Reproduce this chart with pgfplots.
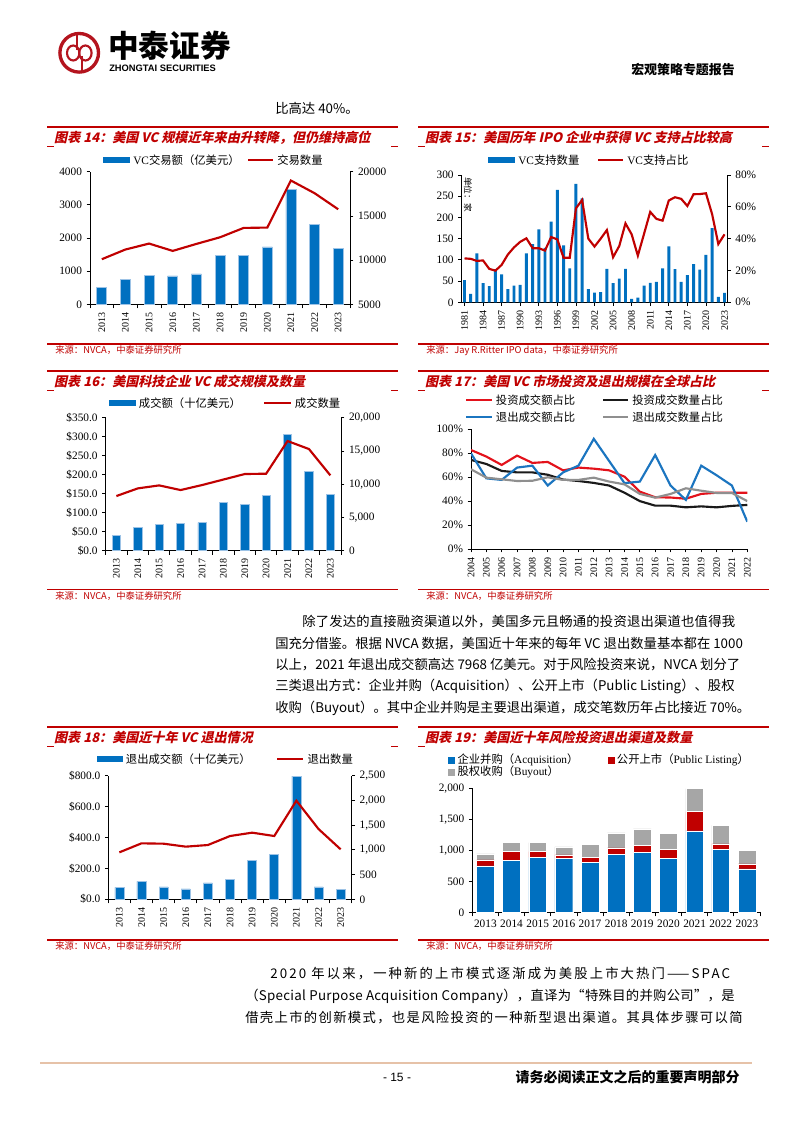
\documentclass[border=0pt]{standalone}
\usepackage{fontspec}
\setmainfont{Liberation Serif}
\setsansfont{Liberation Sans}
\newfontfamily\cjk{Noto Sans CJK SC}
\newfontfamily\cjkA[LetterSpace=1.5]{Noto Sans CJK SC}
\newfontfamily\cjkB[LetterSpace=10]{Noto Sans CJK SC}
\newfontfamily\cjkC[LetterSpace=2.2]{Noto Sans CJK SC}
\newfontfamily\cjkD[LetterSpace=16]{Noto Sans CJK SC}
\usepackage{pgfplots}
\pgfplotsset{compat=1.18}

\definecolor{zred}{HTML}{C00000}
\definecolor{zblue}{HTML}{0070C0}
\definecolor{zedge}{HTML}{9DC3E6}
\definecolor{zgray}{HTML}{A6A6A6}
\definecolor{logored}{HTML}{B4141E}
\definecolor{footline}{HTML}{E6C2A8}
\definecolor{rA}{HTML}{E3121B}
\definecolor{kA}{HTML}{1A1A1A}
\definecolor{bA}{HTML}{1B75C0}
\definecolor{gA}{HTML}{8F8F8F}

\newcommand\fs[1]{\fontsize{#1}{#1}\selectfont}

\pgfplotsset{
  zax/.style={scale only axis, anchor=south west,
    /pgf/number format/assume math mode=true,
    scaled y ticks=false, scaled x ticks=false,
    axis line style={black, line width=0.7pt},
    tick style={black, line width=0.6pt},
    major tick length=2.5pt, minor tick length=3pt,
    tick align=outside,
    yticklabel style={font=\fs{8.5}},
    xticklabel style={font=\fs{7.5}}},
  zleft/.style={zax, axis x line*=bottom, axis y line*=left},
  zright/.style={zax, axis y line*=right, axis x line=none},
  zcat/.style={xmin=-0.5, xmax=10.5, xtick={0,...,10},
    xticklabels={2013,2014,2015,2016,2017,2018,2019,2020,2021,2022,2023},
    major x tick style={draw=none},
    minor xtick={-0.5,0.5,...,10.5}},
  zrot/.style={xticklabel style={rotate=90, anchor=east}},
  zbar/.style={ybar, fill=zblue, draw=zedge, line width=0.5pt},
}

% panel frame: x1, x2, ytop, ybottom, title, source, right segment
\newcommand\panel[7]{%
  \draw[zred, line width=1.3pt] (#1,-#3) -- (#2,-#3);
  \node[anchor=west, inner sep=0, text=zred, xslant=0.22, transform shape] at ({#1+8},{-#3-10.5}) {\cjk\bfseries\fs{9.8}#5};
  \draw[zred, line width=0.8pt] (#1,{-#3-19.5}) -- ({#1+7},{-#3-19.5});
  \ifnum#7=1 \draw[zred, line width=0.8pt] ({#2-7},{-#3-19.5}) -- (#2,{-#3-19.5});\fi
  \draw[zred, line width=1pt] (#1,-#4) -- (#2,-#4);
  \node[anchor=west, inner sep=0, text=zred] at ({#1+8},{-#4-6.5}) {\cjk\fs{7}#6};
}
\newcommand\lbar[4]{%
  \fill[zblue] (#1,{-#3+3}) rectangle (#2,{-#3-3});
  \node[anchor=west, inner sep=0] at ({#2+3},-#3) {\fs{8.5}#4};}
\newcommand\lline[5]{%
  \draw[#1, line width=1.6pt] (#2,-#4) -- (#3,-#4);
  \node[anchor=west, inner sep=0] at ({#3+4},-#4) {\fs{8.5}#5};}
\newcommand\lsq[4]{%
  \fill[#1] (#2,{-#3+3.5}) rectangle ({#2+7},{-#3-3.5});
  \node[anchor=west, inner sep=0] at ({#2+9},-#3) {\fs{8.5}#4};}
\newcommand\bline[3]{%
  \node[anchor=west, inner sep=0] at (#1,-#2) {\fs{10}#3};}

\begin{document}
\begin{tikzpicture}[x=0.75pt,y=0.75pt]
\path[use as bounding box, fill=white] (0,0) rectangle (794,-1123);

% header
\draw[logored, line width=2.5pt] (79.2,-52.8) circle (19.3);
\draw[logored, line width=1.6pt] (73.2,-53) ellipse (6.2 and 7.5);
\draw[logored, line width=1.6pt] (85.4,-53) ellipse (6.2 and 7.5);
\draw[logored, line width=1.6pt] (76.6,-34) -- (76.6,-50);
\draw[logored, line width=1.6pt] (82,-56) -- (82,-72);
\node[anchor=west, inner sep=0] at (108,-46) {\cjk\bfseries\fs{23}中泰证券};
\node[anchor=west, inner sep=0] at (109,-68) {\sffamily\bfseries\fs{7}ZHONGTAI SECURITIES};
\node[anchor=east, inner sep=0] at (735,-70) {\cjk\bfseries\fs{9.7}宏观策略专题报告};
\node[anchor=west, inner sep=0] at (275,-108) {\cjk\fs{10}比高达 40\%。};

% frames
\panel{47}{398}{127}{344}{图表 14：美国 VC 规模近年来由升转降，但仍维持高位}{来源：NVCA，中泰证券研究所}{1}
\panel{418}{769}{127}{344}{图表 15：美国历年 IPO 企业中获得 VC 支持占比较高}{来源：Jay R.Ritter IPO data，中泰证券研究所}{1}
\panel{47}{398}{370.7}{589.3}{图表 16：美国科技企业 VC 成交规模及数量}{来源：NVCA，中泰证券研究所}{1}
\panel{418}{769}{370.7}{589.3}{图表 17：美国 VC 市场投资及退出规模在全球占比}{来源：NVCA，中泰证券研究所}{1}
\panel{47}{398}{727.3}{940}{图表 18：美国近十年 VC 退出情况}{来源：NVCA，中泰证券研究所}{1}
\panel{418}{769}{727.3}{940}{图表 19：美国近十年风险投资退出渠道及数量}{来源：NVCA，中泰证券研究所}{0}

% legends
\lbar{103}{130}{160}{VC{\cjk 交易额（亿美元）}}
\lline{zred}{248}{273}{160}{\cjk 交易数量}
\lbar{488}{515}{160}{VC{\cjk 支持数量}}
\lline{zred}{598}{623}{160}{VC{\cjk 支持占比}}
\lbar{109}{135.7}{402.7}{\cjk 成交额（十亿美元）}
\lline{zred}{264}{290.7}{402.7}{\cjk 成交数量}
\lline{rA}{466}{491.7}{400}{\cjk 投资成交额占比}
\lline{kA}{603.3}{628}{400}{\cjk 投资成交数量占比}
\lline{bA}{466}{491.7}{416.7}{\cjk 退出成交额占比}
\lline{gA}{603.3}{628}{416.7}{\cjk 退出成交数量占比}
\lbar{97.3}{122.7}{759}{\cjk 退出成交额（十亿美元）}
\lline{zred}{277.3}{303.3}{759}{\cjk 退出数量}
\lsq{zblue}{448.3}{760}{{\cjk 企业并购（}Acquisition{\cjk ）}}
\lsq{zred}{607.7}{760}{{\cjk 公开上市（}Public Listing{\cjk ）}}
\lsq{zgray}{448.3}{772.3}{{\cjk 股权收购（}Buyout{\cjk ）}}
\node[anchor=west, inner sep=0, rotate=-90] at (468,-177) {\cjk\fs{6.5}单位：家};

\coordinate (c14) at (90,-304.3);
\coordinate (c15) at (461.7,-302.3);
\coordinate (c16) at (105.7,-550.7);
\coordinate (c17) at (471,-549);
\coordinate (c18) at (108.3,-899.3);
\coordinate (c19) at (472.3,-912.3);

% chart 14
\begin{axis}[zleft, zcat, zrot, at={(c14)}, width=195pt, height=99.45pt,
  ymin=0, ymax=4000, ytick={0,1000,...,4000}, /pgf/number format/1000 sep={}]
\addplot[zbar, bar width=7.5pt] coordinates {
  (0,513) (1,754) (2,874) (3,854) (4,915) (5,1477) (6,1487) (7,1729) (8,3467) (9,2412) (10,1698)};
\end{axis}
\begin{axis}[zright, zcat, at={(c14)}, width=195pt, height=99.45pt,
  ymin=5000, ymax=20000, ytick={5000,10000,15000,20000}, /pgf/number format/1000 sep={}]
\addplot[zred, line width=1.6pt, mark=none] coordinates {
  (0,10100) (1,11200) (2,11870) (3,11040) (4,11830) (5,12580) (6,13640) (7,13680) (8,19000) (9,17570) (10,15750)};
\end{axis}

% chart 15
\begin{axis}[zleft, zrot, at={(c15)}, width=199.2pt, height=95.5pt,
  xmin=1980.55, xmax=2023.45, xtick={1981,1984,...,2023},
  ymin=0, ymax=300, ytick={0,50,...,300}, /pgf/number format/1000 sep={}]
\addplot[ybar, bar width=2.2pt, fill=zblue, draw=none] coordinates {
  (1981,52) (1982,20) (1983,115) (1984,45) (1985,38) (1986,78) (1987,66) (1988,31) (1989,39) (1990,41)
  (1991,115) (1992,137) (1993,172) (1994,128) (1995,190) (1996,265) (1997,134) (1998,80) (1999,279) (2000,245)
  (2001,31) (2002,23) (2003,24) (2004,79) (2005,45) (2006,56) (2007,79) (2008,8) (2009,11) (2010,39)
  (2011,46) (2012,48) (2013,80) (2014,132) (2015,78) (2016,48) (2017,64) (2018,90) (2019,77) (2020,112)
  (2021,175) (2022,13) (2023,22)};
\end{axis}
\begin{axis}[zright, at={(c15)}, width=199.2pt, height=95.5pt,
  xmin=1980.55, xmax=2023.45,
  ymin=0, ymax=80, ytick={0,20,...,80}, yticklabel={\pgfmathprintnumber{\tick}\%}]
\addplot[zred, line width=1.6pt, mark=none] coordinates {
  (1981,27.6) (1982,27.3) (1983,26) (1984,26.3) (1985,21) (1986,19.9) (1987,23.5) (1988,30) (1989,34.5) (1990,38)
  (1991,40.2) (1992,34) (1993,34) (1994,32.5) (1995,41) (1996,39.5) (1997,28) (1998,28) (1999,59) (2000,64.3)
  (2001,40) (2002,35) (2003,40) (2004,45.4) (2005,28.3) (2006,35.4) (2007,49.6) (2008,42.7) (2009,29.3) (2010,43)
  (2011,56.8) (2012,52.4) (2013,51.3) (2014,64) (2015,66) (2016,65) (2017,60.5) (2018,67.9) (2019,68) (2020,68.5)
  (2021,55.3) (2022,36.6) (2023,42.7)};
\end{axis}

% chart 16
\begin{axis}[zleft, zcat, zrot, at={(c16)}, width=176.5pt, height=99.75pt,
  ymin=0, ymax=350, ytick={0,50,...,350},
  yticklabel={\$\pgfmathprintnumber[fixed,fixed zerofill,precision=1]{\tick}}]
\addplot[zbar, bar width=6.2pt] coordinates {
  (0,40) (1,60.5) (2,70) (3,71) (4,73.7) (5,127) (6,122) (7,145) (8,306) (9,209.6) (10,148)};
\end{axis}
\begin{axis}[zright, zcat, at={(c16)}, width=176.5pt, height=99.75pt,
  ymin=0, ymax=20000, ytick={0,5000,...,20000}]
\addplot[zred, line width=1.6pt, mark=none] coordinates {
  (0,8220) (1,9370) (2,9820) (3,9120) (4,9870) (5,10700) (6,11530) (7,11580) (8,16490) (9,15290) (10,11330)};
\end{axis}

% chart 17
\begin{axis}[zleft, zrot, at={(c17)}, width=207.2pt, height=89.8pt,
  xmin=2004, xmax=2022, xtick={2004,...,2022}, /pgf/number format/1000 sep={},
  ymin=0, ymax=100, ytick={0,20,...,100}, yticklabel={\pgfmathprintnumber{\tick}\%}]
\addplot[rA, line width=1.6pt, mark=none] coordinates {
  (2004,82.7) (2005,77.2) (2006,70.2) (2007,78) (2008,71.9) (2009,72.7) (2010,65.7) (2011,68) (2012,67.1) (2013,65.7)
  (2014,60.4) (2015,47.9) (2016,43.2) (2017,43) (2018,42) (2019,46) (2020,47) (2021,47) (2022,47)};
\addplot[kA, line width=1.6pt, mark=none] coordinates {
  (2004,74.4) (2005,71) (2006,65.2) (2007,64) (2008,64) (2009,62) (2010,58) (2011,56.8) (2012,55.2) (2013,53)
  (2014,47) (2015,40) (2016,36.2) (2017,36.2) (2018,34.8) (2019,35.6) (2020,34.8) (2021,36) (2022,36.8)};
\addplot[bA, line width=1.6pt, mark=none] coordinates {
  (2004,79.9) (2005,59) (2006,57.7) (2007,68) (2008,69.6) (2009,53) (2010,64) (2011,69.6) (2012,92) (2013,73.5)
  (2014,55) (2015,56.3) (2016,78.5) (2017,53) (2018,41) (2019,69.6) (2020,61.6) (2021,53) (2022,22.8)};
\addplot[gA, line width=1.6pt, mark=none] coordinates {
  (2004,66.6) (2005,59.6) (2006,58.2) (2007,56.8) (2008,57) (2009,59.9) (2010,57.7) (2011,57.7) (2012,59.6) (2013,56.3)
  (2014,54) (2015,46) (2016,42.9) (2017,46) (2018,50.7) (2019,48.7) (2020,46.8) (2021,46.8) (2022,40)};
\end{axis}

% chart 18
\begin{axis}[zleft, zcat, zrot, at={(c18)}, width=182.55pt, height=92.7pt,
  ymin=0, ymax=800, ytick={0,200,...,800},
  yticklabel={\$\pgfmathprintnumber[fixed,fixed zerofill,precision=1]{\tick}}]
\addplot[zbar, bar width=6.75pt] coordinates {
  (0,77.6) (1,116) (2,80) (3,67) (4,106) (5,129) (6,254) (7,293) (8,797) (9,80) (10,65)};
\end{axis}
\begin{axis}[zright, zcat, at={(c18)}, width=182.55pt, height=92.7pt,
  ymin=0, ymax=2500, ytick={0,500,...,2500}]
\addplot[zred, line width=1.6pt, mark=none] coordinates {
  (0,950) (1,1132) (2,1125) (3,1065) (4,1098) (5,1280) (6,1348) (7,1280) (8,1995) (9,1422) (10,1011)};
\end{axis}

% chart 19
\begin{axis}[zleft, zcat, at={(c19)}, width=215.8pt, height=93pt,
  ybar stacked, bar width=13.3pt, xticklabel style={font=\fs{8.5}},
  ymin=0, ymax=2000, ytick={0,500,...,2000}]
\addplot[fill=zblue, draw=white, line width=0.3pt] coordinates {
  (0,747) (1,833) (2,887) (3,871) (4,806) (5,935) (6,968) (7,871) (8,1312) (9,1016) (10,699)};
\addplot[fill=zred, draw=white, line width=0.3pt] coordinates {
  (0,97) (1,145) (2,91) (3,54) (4,86) (5,103) (6,113) (7,140) (8,312) (9,86) (10,81)};
\addplot[fill=zgray, draw=white, line width=0.3pt] coordinates {
  (0,97) (1,151) (2,146) (3,129) (4,205) (5,242) (6,263) (7,258) (8,371) (9,301) (10,220)};
\end{axis}

% body text
\bline{302}{622}{\cjkA 除了发达的直接融资渠道以外，美国多元且畅通的投资退出渠道也值得我}
\bline{275}{643.5}{\cjk 国充分借鉴。根据 NVCA 数据，美国近十年来的每年 VC 退出数量基本都在 1000}
\bline{275}{665}{\cjk 以上，2021 年退出成交额高达 7968 亿美元。对于风险投资来说，NVCA 划分了}
\bline{275}{686.5}{\cjk 三类退出方式：企业并购（Acquisition）、公开上市（Public Listing）、股权}
\bline{275}{708}{\cjk 收购（Buyout）。其中企业并购是主要退出渠道，成交笔数历年占比接近 70\%。}
\bline{270}{974}{\cjkD 2020 年以来，一种新的上市模式逐渐成为美股上市大热门——SPAC}
\bline{245}{996}{\cjkC （Special Purpose Acquisition Company），直译为“特殊目的并购公司”，是}
\bline{245}{1018}{\cjkB 借壳上市的创新模式，也是风险投资的一种新型退出渠道。其具体步骤可以简}

% footer
\draw[footline, line width=1.6pt] (40,-1063) -- (752,-1063);
\node[inner sep=0] at (397,-1077) {\sffamily\fs{9}- 15 -};
\node[anchor=east, inner sep=0] at (740,-1077) {\cjk\bfseries\fs{10.5}请务必阅读正文之后的重要声明部分};
\end{tikzpicture}
\end{document}
